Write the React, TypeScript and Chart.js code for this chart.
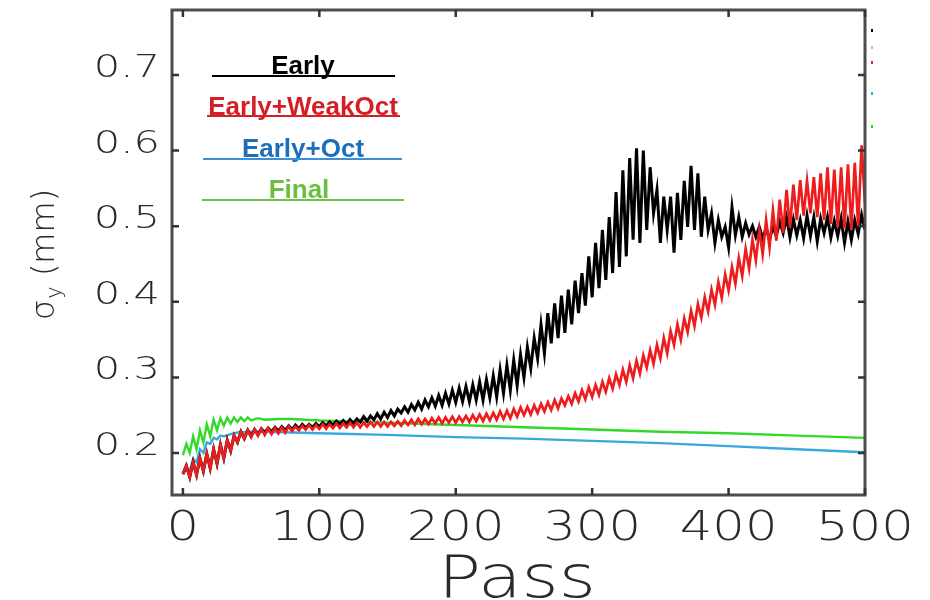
import React, { useEffect, useRef } from "react";
import { Chart, registerables } from "chart.js";

Chart.register(...registerables);

// ---- data (sigma_y in mm), Early & Early+WeakOct sampled every 2.5 passes ----
const SAMPLE_STEP = 2.5;

const earlyVals = [
  0.172, 0.183, 0.168, 0.188, 0.171, 0.193, 0.176, 0.199, 0.180, 0.205,
  0.186, 0.211, 0.193, 0.217, 0.203, 0.223, 0.214, 0.228, 0.219, 0.230,
  0.222, 0.231, 0.224, 0.232, 0.227, 0.233, 0.228, 0.234, 0.229, 0.235,
  0.230, 0.236, 0.231, 0.237, 0.232, 0.238, 0.233, 0.238, 0.234, 0.239,
  0.235, 0.240, 0.236, 0.241, 0.237, 0.242, 0.238, 0.243, 0.238, 0.244,
  0.239, 0.245, 0.241, 0.248, 0.242, 0.249, 0.244, 0.252, 0.245, 0.254,
  0.247, 0.256, 0.249, 0.258, 0.253, 0.261, 0.254, 0.264, 0.257, 0.267,
  0.258, 0.270, 0.261, 0.273, 0.262, 0.276, 0.263, 0.279, 0.265, 0.283,
  0.267, 0.286, 0.268, 0.288, 0.268, 0.290, 0.270, 0.294, 0.270, 0.297,
  0.273, 0.302, 0.274, 0.310, 0.279, 0.316, 0.283, 0.323, 0.289, 0.330,
  0.300, 0.340, 0.312, 0.352, 0.325, 0.370, 0.332, 0.385, 0.345, 0.398,
  0.352, 0.408, 0.359, 0.416, 0.370, 0.428, 0.385, 0.438, 0.395, 0.460,
  0.406, 0.478, 0.418, 0.495, 0.429, 0.512, 0.438, 0.545, 0.446, 0.574,
  0.460, 0.590, 0.482, 0.603, 0.478, 0.600, 0.495, 0.578, 0.517, 0.548,
  0.478, 0.539, 0.495, 0.539, 0.465, 0.544, 0.482, 0.560, 0.499, 0.580,
  0.495, 0.570, 0.486, 0.539, 0.495, 0.517, 0.478, 0.508, 0.486, 0.499,
  0.472, 0.525, 0.488, 0.512, 0.486, 0.504, 0.489, 0.500, 0.486, 0.499,
  0.484, 0.497, 0.482, 0.499, 0.487, 0.506, 0.491, 0.512, 0.485, 0.509,
  0.488, 0.508, 0.484, 0.514, 0.487, 0.512, 0.480, 0.510, 0.491, 0.512,
  0.485, 0.507, 0.487, 0.510, 0.478, 0.506, 0.482, 0.508, 0.490, 0.515,
  0.495,
];

const weakOctVals = [
  0.172, 0.183, 0.168, 0.188, 0.171, 0.193, 0.176, 0.199, 0.180, 0.205,
  0.186, 0.211, 0.193, 0.217, 0.203, 0.223, 0.214, 0.228, 0.219, 0.230,
  0.221, 0.231, 0.223, 0.232, 0.224, 0.233, 0.225, 0.233, 0.226, 0.234,
  0.227, 0.235, 0.229, 0.235, 0.230, 0.236, 0.231, 0.237, 0.231, 0.237,
  0.232, 0.238, 0.232, 0.238, 0.233, 0.239, 0.233, 0.239, 0.234, 0.240,
  0.234, 0.240, 0.234, 0.240, 0.235, 0.241, 0.235, 0.241, 0.235, 0.241,
  0.235, 0.241, 0.236, 0.242, 0.236, 0.243, 0.237, 0.244, 0.237, 0.245,
  0.238, 0.245, 0.238, 0.246, 0.239, 0.247, 0.239, 0.247, 0.240, 0.248,
  0.240, 0.248, 0.241, 0.249, 0.241, 0.250, 0.242, 0.251, 0.242, 0.252,
  0.243, 0.253, 0.244, 0.255, 0.245, 0.256, 0.246, 0.258, 0.248, 0.260,
  0.250, 0.261, 0.251, 0.263, 0.253, 0.265, 0.255, 0.267, 0.257, 0.270,
  0.259, 0.272, 0.263, 0.275, 0.265, 0.279, 0.268, 0.283, 0.271, 0.287,
  0.274, 0.290, 0.277, 0.294, 0.281, 0.299, 0.285, 0.304, 0.290, 0.310,
  0.294, 0.316, 0.299, 0.322, 0.305, 0.329, 0.313, 0.336, 0.318, 0.343,
  0.325, 0.352, 0.332, 0.361, 0.343, 0.370, 0.350, 0.378, 0.360, 0.388,
  0.368, 0.397, 0.379, 0.406, 0.387, 0.416, 0.396, 0.426, 0.405, 0.436,
  0.415, 0.446, 0.424, 0.458, 0.434, 0.470, 0.444, 0.482, 0.455, 0.495,
  0.463, 0.508, 0.472, 0.521, 0.481, 0.535, 0.491, 0.548, 0.498, 0.555,
  0.508, 0.561, 0.514, 0.560, 0.517, 0.565, 0.512, 0.570, 0.508, 0.578,
  0.503, 0.575, 0.499, 0.578, 0.497, 0.582, 0.495, 0.584, 0.500, 0.607,
  0.530,
];

const octPass = [0, 2.5, 5, 7.5, 10, 12.5, 15, 17.5, 20, 22.5, 25, 27.5, 30, 35, 40, 50, 60, 100, 150, 200, 250, 300, 350, 400, 450, 500];
const octVals = [0.172, 0.180, 0.176, 0.192, 0.188, 0.205, 0.200, 0.214, 0.212, 0.220, 0.218, 0.223, 0.222, 0.225, 0.227, 0.228, 0.228, 0.226, 0.224, 0.221, 0.219, 0.216, 0.213, 0.209, 0.205, 0.201];

const finalPass = [0, 2.5, 5, 7.5, 10, 12.5, 15, 17.5, 20, 22.5, 25, 27.5, 30, 32.5, 35, 37.5, 40, 42.5, 45, 47.5, 50, 55, 60, 70, 80, 100, 150, 200, 250, 300, 350, 400, 450, 500];
const finalVals = [0.197, 0.212, 0.200, 0.222, 0.205, 0.230, 0.214, 0.238, 0.222, 0.244, 0.230, 0.246, 0.236, 0.247, 0.239, 0.247, 0.241, 0.247, 0.242, 0.247, 0.243, 0.246, 0.244, 0.245, 0.245, 0.243, 0.240, 0.237, 0.234, 0.231, 0.228, 0.226, 0.223, 0.220];

const seriesNames = ["Early", "Early+WeakOct", "Early+Oct", "Final"];
const seriesLineColors = ["#000000", "#ee1c1c", "#3aa8dc", "#33d92a"];
const legendTextColors = ["#000000", "#d41f26", "#1e6fbb", "#6abf3f"];
const legendRuleColors = ["#000000", "#d41f26", "#3b8fd4", "#6cc24a"];

const xTickValues = [0, 100, 200, 300, 400, 500];
const yTickValues = [0.2, 0.3, 0.4, 0.5, 0.6, 0.7];
const xTitle = "Pass";

const LABEL_FONT = "'DejaVu Sans', 'Liberation Sans', sans-serif";

function toPoints(xs: number[], ys: number[]) {
  return ys.map((y, i) => ({ x: xs[i], y }));
}
function sampled(ys: number[]) {
  return ys.map((y, i) => ({ x: i * SAMPLE_STEP, y }));
}

function stretchedText(ctx: CanvasRenderingContext2D, text: string, x: number, y: number, align: CanvasTextAlign, sx: number) {
  ctx.save();
  ctx.translate(x, y);
  ctx.scale(sx, 1);
  ctx.textAlign = align;
  ctx.fillText(text, 0, 0);
  ctx.restore();
}

const decorPlugin = {
  id: "decor",
  afterDraw(chart: any) {
    const ctx: CanvasRenderingContext2D = chart.ctx;
    const { left, right, top, bottom } = chart.chartArea;
    const xs = chart.scales.x;
    const ys = chart.scales.y;
    ctx.save();
    // frame
    ctx.strokeStyle = "#4d4d4d";
    ctx.lineWidth = 3;
    ctx.strokeRect(left, top, right - left, bottom - top);
    // ticks
    ctx.lineWidth = 2.5;
    ctx.strokeStyle = "#333";
    ctx.beginPath();
    xTickValues.forEach((v) => {
      const px = xs.getPixelForValue(v);
      ctx.moveTo(px, bottom);
      ctx.lineTo(px, bottom - 7);
      ctx.moveTo(px, top);
      ctx.lineTo(px, top + 7);
    });
    yTickValues.forEach((v) => {
      const py = ys.getPixelForValue(v);
      ctx.moveTo(left, py);
      ctx.lineTo(left + 7, py);
      ctx.moveTo(right, py);
      ctx.lineTo(right - 7, py);
    });
    ctx.stroke();

    // tick labels
    ctx.fillStyle = "#2a2a2a";
    ctx.textBaseline = "alphabetic";
    ctx.font = `200 32px ${LABEL_FONT}`;
    yTickValues.forEach((v) => {
      const py = ys.getPixelForValue(v);
      stretchedText(ctx, v.toFixed(1), left - 12, py + 2, "right", 1.3);
    });
    ctx.font = `200 41px ${LABEL_FONT}`;
    xTickValues.forEach((v) => {
      const px = xs.getPixelForValue(v);
      stretchedText(ctx, String(v), px, 540, "center", 1.25);
    });
    // x title
    ctx.font = `200 58px ${LABEL_FONT}`;
    stretchedText(ctx, xTitle, 517, 597, "center", 1.23);

    // y title: sigma_y (mm)
    ctx.save();
    ctx.translate(54, 320);
    ctx.rotate(-Math.PI / 2);
    ctx.textAlign = "left";
    ctx.font = `200 32px ${LABEL_FONT}`;
    ctx.fillText("\u03c3", 0, 0);
    let w = ctx.measureText("\u03c3").width;
    ctx.font = `200 21px ${LABEL_FONT}`;
    ctx.fillText("y", w + 1, 7);
    w += ctx.measureText("y").width + 1;
    ctx.font = `200 32px ${LABEL_FONT}`;
    ctx.fillText(" (mm)", w, 0);
    ctx.restore();

    // in-plot legend
    const legendY = [74, 115, 157, 198];
    const legendCx = [303, 303, 303, 299];
    const rules = [
      [212, 395, 76],
      [207, 400, 116],
      [203, 402, 159],
      [202, 404, 200],
    ];
    ctx.font = "bold 26px 'Liberation Sans', Arial, sans-serif";
    ctx.textAlign = "center";
    seriesNames.forEach((name, i) => {
      ctx.fillStyle = legendTextColors[i];
      ctx.fillText(name, legendCx[i], legendY[i]);
      ctx.strokeStyle = legendRuleColors[i];
      ctx.lineWidth = 2;
      ctx.beginPath();
      ctx.moveTo(rules[i][0], rules[i][2]);
      ctx.lineTo(rules[i][1], rules[i][2]);
      ctx.stroke();
    });

    // small marks right of the frame
    const marks = [
      [30, "#000"],
      [47, "#bbb"],
      [62, "#e22"],
      [93, "#3aa8dc"],
      [126, "#33d92a"],
    ];
    marks.forEach(([y, c]) => {
      ctx.fillStyle = c as string;
      ctx.fillRect(871, (y as number) - 1, 2, 3);
    });
    ctx.restore();
  },
};

export default function App() {
  const canvasRef = useRef<HTMLCanvasElement | null>(null);

  useEffect(() => {
    const canvas = canvasRef.current;
    if (!canvas) return;
    const chart = new Chart(canvas, {
      type: "line",
      data: {
        datasets: [
          { label: seriesNames[0], data: sampled(earlyVals), borderColor: seriesLineColors[0], borderWidth: 3, order: 2 },
          { label: seriesNames[1], data: sampled(weakOctVals), borderColor: seriesLineColors[1], borderWidth: 2.7, order: 1 },
          { label: seriesNames[2], data: toPoints(octPass, octVals), borderColor: seriesLineColors[2], borderWidth: 2.4, order: 4 },
          { label: seriesNames[3], data: toPoints(finalPass, finalVals), borderColor: seriesLineColors[3], borderWidth: 2.4, order: 3 },
        ].map((d) => ({ ...d, pointRadius: 0, fill: false, tension: 0 })),
      },
      options: {
        animation: false,
        responsive: false,
        maintainAspectRatio: false,
        devicePixelRatio: 1,
        layout: { padding: { top: 10, right: 65, left: 0, bottom: 0 } },
        plugins: { legend: { display: false }, tooltip: { enabled: false } },
        scales: {
          x: {
            type: "linear",
            min: -8,
            max: 500,
            grid: { display: false },
            border: { display: false },
            ticks: { display: false },
            afterFit: (s: any) => {
              s.height = 105;
            },
          },
          y: {
            type: "linear",
            min: 0.1444,
            max: 0.786,
            grid: { display: false },
            border: { display: false },
            ticks: { display: false },
            afterFit: (s: any) => {
              s.width = 172;
            },
          },
        },
      },
      plugins: [decorPlugin],
    } as any);
    return () => chart.destroy();
  }, []);

  return (
    <div style={{ position: "absolute", left: 0, top: 0, width: 930, height: 600, background: "#fff" }}>
      <canvas ref={canvasRef} width={930} height={600} />
    </div>
  );
}
